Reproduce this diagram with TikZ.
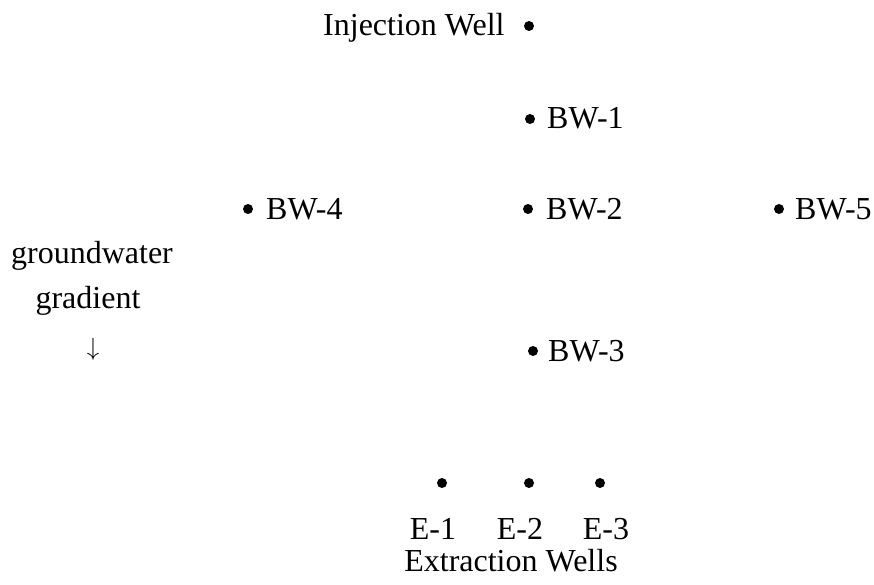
\documentclass[tikz,border=0pt]{standalone}
\usepackage{fontspec}
\setmainfont{Liberation Serif}
\begin{document}
\begin{tikzpicture}[x=1pt,y=-1pt,
  lbl/.style={anchor=base west,inner sep=0pt,font=\fontsize{32}{38}\selectfont},
  well/.style={circle,fill=black,inner sep=0pt,minimum size=10pt}]
\useasboundingbox (0,0) rectangle (874,585);
% injection well
\node[lbl] (inj) at (323,36) {Injection Well};
\node[well] (pinj) at (529,26) {};
% monitoring wells
\node[well] (p1) at (530,119) {};
\node[lbl] (bw1) at (547,129) {BW-1};
\node[well] (p2) at (528,209) {};
\node[lbl] (bw2) at (546,219) {BW-2};
\node[well] (p3) at (533,351) {};
\node[lbl] (bw3) at (548,361) {BW-3};
\node[well] (p4) at (248,209) {};
\node[lbl] (bw4) at (266,219) {BW-4};
\node[well] (p5) at (779,209) {};
\node[lbl] (bw5) at (795,219) {BW-5};
% gradient note
\node[lbl,anchor=base] (gw) at (92,263) {groundwater};
\node[lbl,anchor=base] (gr) at (88,308) {gradient};
\node[lbl,anchor=base,font=\fontsize{38}{44}\selectfont] (arr) at (93,355) {$\downarrow$};
% extraction wells
\node[well] (pe1) at (442,483) {};
\node[well] (pe2) at (529,483) {};
\node[well] (pe3) at (600,483) {};
\node[lbl,anchor=base] (e1) at (433,539) {E-1};
\node[lbl,anchor=base] (e2) at (520,539) {E-2};
\node[lbl,anchor=base] (e3) at (606,539) {E-3};
\node[lbl,anchor=base] (ext) at (511,571) {Extraction Wells};
\end{tikzpicture}
\end{document}
